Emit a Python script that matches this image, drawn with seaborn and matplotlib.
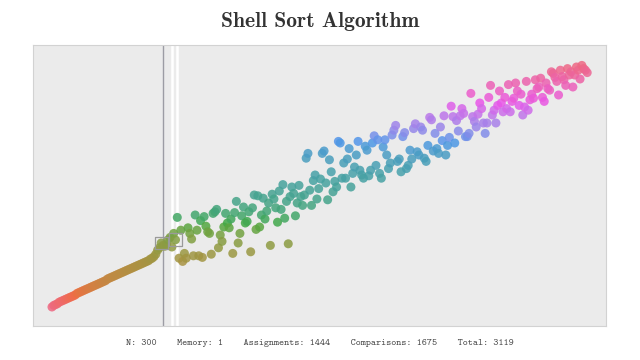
import numpy as np
import matplotlib
matplotlib.use("Agg")
import matplotlib.pyplot as plt
import seaborn as sns

# counters shown under the plot
n_items = 300
memory = 1
assignments = 1444
comparisons = 1675

# values by array position (left to right)
prefix_vals = [0, 2, 3, 4, 6, 7, 8, 9, 10, 11, 12, 13, 14, 15, 17, 18, 19, 20, 21, 22,
               23, 24, 25, 26, 27, 28, 29, 30, 31, 32, 33, 35, 36, 37, 38, 39, 40, 41, 42, 43,
               44, 45, 46, 47, 48, 49, 50, 51, 52, 53, 54, 55, 56, 57, 58, 60, 61, 63,
               66, 71, 74, 80, 77, 76]
green_vals = [78, 84, 87, 75, 92, 84, 112, 61, 96, 57, 67, 61, 99, 92, 85, 64, 115, 96, 64, 108,
              62, 113, 101, 94, 92, 66, 117, 119, 122, 74, 90, 82, 100, 117, 105, 99, 110, 67, 118, 132,
              80, 92, 114, 125, 105, 107, 119, 69, 124, 140, 97, 139, 100, 115, 136, 110, 120, 130, 77, 141,
              135, 124, 106, 145, 122, 153, 111, 132, 79, 138, 150, 142, 114, 130]
teal_blue_vals = [152, 138, 127, 140, 186, 192, 146, 127, 158, 165, 135, 148, 160, 192, 195, 155, 134, 184, 169, 144,
                  157, 150, 207, 205, 161, 180, 161, 185, 198, 150, 167, 175, 190, 207, 171, 165, 161, 201, 196, 164,
                  171, 205, 214, 177, 209, 167, 161, 200, 209, 190, 173, 180, 215, 221, 227, 182, 185, 169, 213, 218,
                  173, 177, 196, 185, 223, 229, 194, 190, 225, 221, 186, 182, 202, 237, 234, 195, 217, 198, 192, 225,
                  208, 239, 190, 202, 212, 251, 238, 205, 233, 220, 239, 248, 242, 213, 213, 217, 267]
pink_vals = [238, 232, 225, 241, 255, 248, 230, 217, 230, 262, 277, 240, 246, 230, 252, 270, 255, 244, 262, 248,
             278, 244, 257, 261, 280, 270, 252, 266, 240, 250, 282, 246, 259, 266, 261, 284, 273, 275, 286, 262,
             257, 280, 273, 271, 294, 292, 287, 282, 265, 296, 288, 284, 277, 298, 290, 294, 275, 290, 300, 296,
             285, 302, 298, 296, 293]

values = prefix_vals + green_vals + teal_blue_vals + pink_vals
positions = np.arange(len(values))

cursor = 62            # grey cursor line
gap_lines = [67, 70]   # white marker lines
compared = [61, 69]    # boxed items

fig = plt.figure(figsize=(6.4, 3.6), dpi=100)
ax = fig.add_axes([33 / 640, 34 / 360, 573 / 640, 281 / 360])
ax.set_facecolor("#ebebeb")

for g in gap_lines:
    ax.axvline(g, color="white", lw=1.8, zorder=1)
ax.axvline(cursor, color="#9c9ca4", lw=1.0, zorder=2)

sns.scatterplot(x=positions, y=values, hue=values,
                palette=sns.husl_palette(s=0.8, l=0.62, as_cmap=True), hue_norm=(0, 300),
                s=42, linewidth=0, alpha=0.85, legend=False, ax=ax, zorder=3)

ax.scatter([positions[i] for i in compared], [values[i] for i in compared],
           marker="s", s=85, facecolors="none", edgecolors="#9a9a9a",
           linewidths=0.9, zorder=4)

ax.set_xlim(-10.6, 309.5)
ax.set_ylim(-23.75, 327.5)
ax.set_xticks([])
ax.set_yticks([])
ax.set_xlabel("")
ax.set_ylabel("")
for sp in ax.spines.values():
    sp.set_color("#d2d2d2")
    sp.set_linewidth(0.8)

fig.text(0.5, 0.94, "Shell Sort Algorithm", fontfamily="cmb10", fontsize=15.5,
         ha="center", va="center", color="#333333")

status = (f"N: {n_items}    Memory: {memory}    Assignments: {assignments}    "
          f"Comparisons: {comparisons}    Total: {assignments + comparisons}")
fig.text(0.5, 0.047, status, fontfamily="cmtt10", fontsize=7,
         ha="center", va="center", color="#444444")

fig.savefig("out.png", dpi=100)
